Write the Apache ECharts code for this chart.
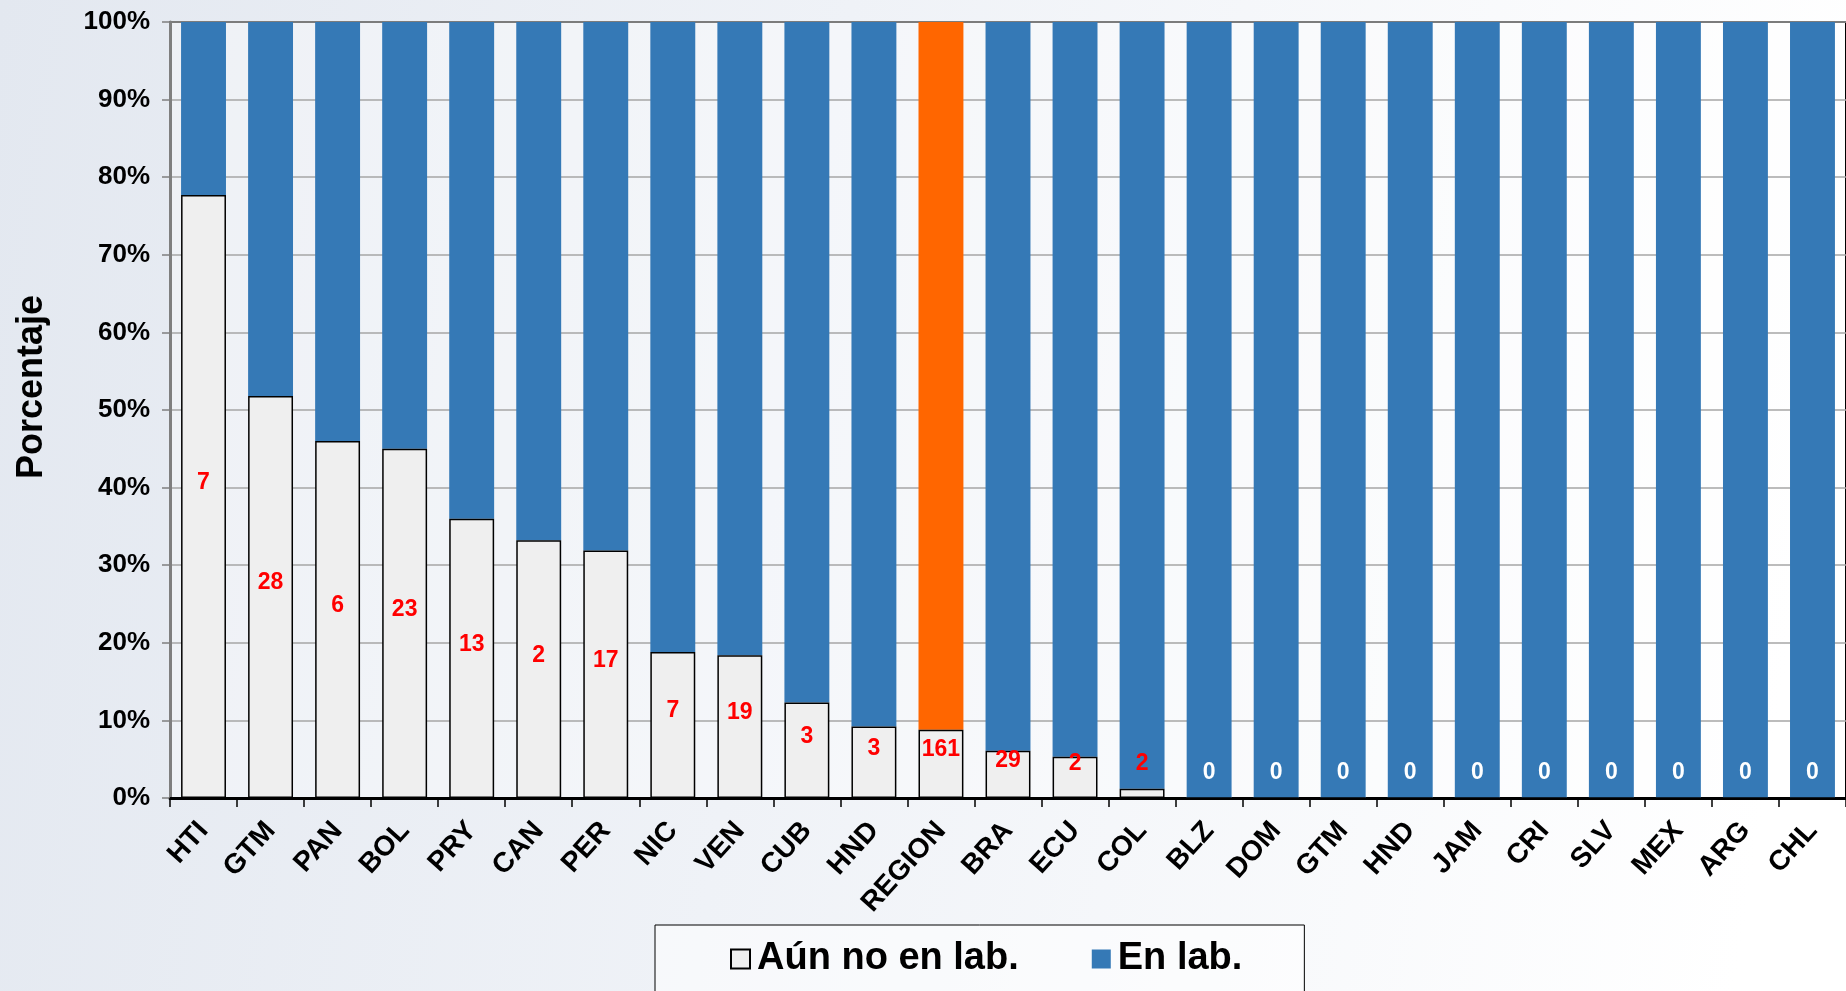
<!DOCTYPE html>
<html>
<head>
<meta charset="utf-8">
<script src="https://cdn.jsdelivr.net/npm/echarts@6/dist/echarts.min.js"></script>
<style>
html,body{margin:0;padding:0;width:1846px;height:991px;overflow:hidden;}
#c{width:1846px;height:991px;}
</style>
</head>
<body>
<div id="c"></div>
<script>
const categories = ['HTI','GTM','PAN','BOL','PRY','CAN','PER','NIC','VEN','CUB','HND','REGION','BRA','ECU','COL','BLZ','DOM','GTM','HND','JAM','CRI','SLV','MEX','ARG','CHL'];
const pctNotInLab = [77.7, 51.8, 46.0, 45.0, 36.0, 33.2, 31.9, 18.8, 18.4, 12.3, 9.2, 8.8, 6.1, 5.3, 1.2, 0, 0, 0, 0, 0, 0, 0, 0, 0, 0];
const pctInLab = [22.3, 48.2, 54.0, 55.0, 64.0, 66.8, 68.1, 81.2, 81.6, 87.7, 90.8, 91.2, 93.9, 94.7, 98.8, 100, 100, 100, 100, 100, 100, 100, 100, 100, 100];
const counts = [7, 28, 6, 23, 13, 2, 17, 7, 19, 3, 3, 161, 29, 2, 2, 0, 0, 0, 0, 0, 0, 0, 0, 0, 0];
const yTicks = [0, 10, 20, 30, 40, 50, 60, 70, 80, 90, 100];
const seriesNames = ['Aún no en lab.', 'En lab.'];
const highlightCategory = 'REGION';

const FONT = '"Liberation Sans", Arial, sans-serif';
const BLUE = '#3579b6';
const ORANGE = '#ff6600';
const RED = '#ff0000';
const SMALL = 3;

const bottomData = pctNotInLab.map((v, i) => ({
  value: v,
  label: { show: v >= SMALL, formatter: String(counts[i]) }
}));
const topData = pctInLab.map((v, i) => {
  const item = { value: v };
  if (categories[i] === highlightCategory) item.itemStyle = { color: ORANGE };
  if (pctNotInLab[i] < SMALL) {
    item.label = {
      show: true, position: 'insideBottom', distance: 14,
      formatter: String(counts[i]),
      color: counts[i] > 0 ? RED : '#ffffff'
    };
  } else {
    item.label = { show: false };
  }
  return item;
});

const chart = echarts.init(document.getElementById('c'));
chart.setOption({
  animation: false,
  backgroundColor: {
    type: 'linear', x: 0, y: 0, x2: 1, y2: 0.3,
    colorStops: [
      { offset: 0, color: '#e3e8f0' },
      { offset: 0.45, color: '#eff2f7' },
      { offset: 1, color: '#ffffff' }
    ]
  },
  grid: {
    left: 170, right: -9, top: 22, bottom: 193,
    show: true, borderColor: '#000', borderWidth: 2,
    backgroundColor: 'rgba(255,255,255,0.35)'
  },
  legend: {
    data: seriesNames,
    left: 655, top: 925,
    padding: [15, 62, 60, 75],
    itemGap: 73,
    itemWidth: 19, itemHeight: 19,
    icon: 'rect',
    backgroundColor: 'rgba(255,255,255,0.5)',
    borderColor: '#000', borderWidth: 1,
    textStyle: { fontFamily: FONT, fontWeight: 'bold', fontSize: 38, color: '#000', padding: [0, 0, 0, 2] }
  },
  xAxis: {
    type: 'category',
    data: categories,
    axisLine: { lineStyle: { color: '#000', width: 3 } },
    axisTick: { show: true, length: 9, lineStyle: { color: '#000', width: 1.5 } },
    axisLabel: {
      rotate: 48, interval: 0, margin: 28,
      fontFamily: FONT, fontWeight: 'bold', fontSize: 28, color: '#000'
    }
  },
  yAxis: {
    type: 'value', min: 0, max: 100, interval: 10,
    name: 'Porcentaje', nameLocation: 'middle', nameGap: 120,
    nameTextStyle: { fontFamily: FONT, fontWeight: 'bold', fontSize: 36, color: '#000', padding: [0, 0, 0, 46] },
    axisLine: { show: true, lineStyle: { color: '#7f7f7f', width: 3 } },
    axisTick: { show: true, length: 8, lineStyle: { color: '#7f7f7f', width: 1.5 } },
    axisLabel: {
      margin: 20,
      fontFamily: FONT, fontWeight: 'bold', fontSize: 26, color: '#000',
      formatter: v => (yTicks.includes(v) ? v + '%' : '')
    },
    splitLine: { lineStyle: { color: '#a6a6a6', width: 1.5 } }
  },
  series: [
    {
      name: seriesNames[0], type: 'bar', stack: 'total',
      barCategoryGap: '33%',
      data: bottomData,
      itemStyle: { color: '#efefef', borderColor: '#000', borderWidth: 1.5 },
      label: {
        show: true, position: 'inside', offset: [0, -14],
        color: RED, fontFamily: FONT, fontWeight: 'bold', fontSize: 23
      },
      z: 3
    },
    {
      name: seriesNames[1], type: 'bar', stack: 'total',
      barCategoryGap: '33%',
      data: topData,
      itemStyle: { color: BLUE },
      label: {
        fontFamily: FONT, fontWeight: 'bold', fontSize: 23
      },
      z: 2
    }
  ]
});
</script>
</body>
</html>
